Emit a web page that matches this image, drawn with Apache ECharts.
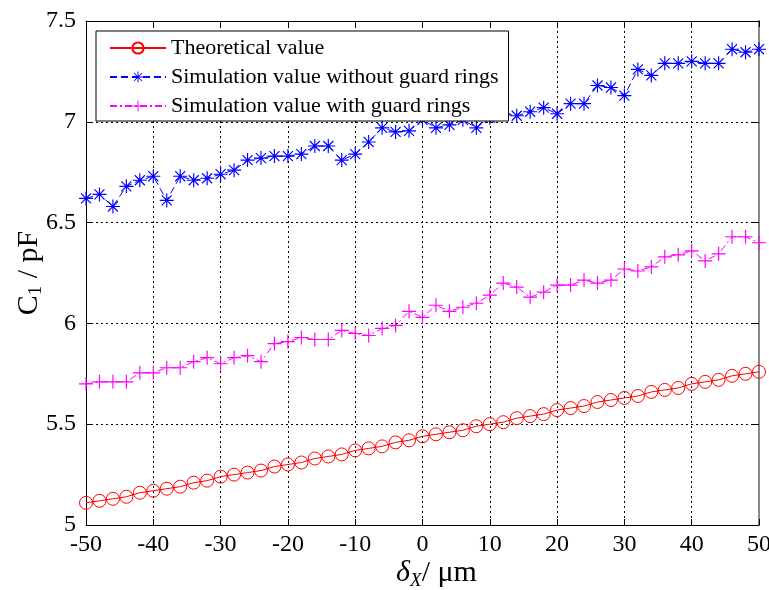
<!DOCTYPE html>
<html>
<head>
<meta charset="utf-8">
<script src="https://cdn.jsdelivr.net/npm/echarts@6/dist/echarts.min.js"></script>
<style>
  html, body { margin: 0; padding: 0; background: #fff; }
  #main { width: 769px; height: 590px; }
</style>
</head>
<body>
<div id="main"></div>
<script>
// x 偏移 (μm)
var xs = [-50,-48,-46,-44,-42,-40,-38,-36,-34,-32,-30,-28,-26,-24,-22,-20,-18,-16,-14,-12,-10,-8,-6,-4,-2,
          0,2,4,6,8,10,12,14,16,18,20,22,24,26,28,30,32,34,36,38,40,42,44,46,48,50];

// 理论值
var theory = [5.11,5.12,5.13,5.14,5.16,5.17,5.18,5.19,5.21,5.22,5.24,5.25,5.26,5.27,5.29,5.30,5.31,5.33,5.34,5.35,5.37,5.38,5.39,5.41,5.42,
              5.44,5.45,5.46,5.47,5.49,5.50,5.51,5.53,5.54,5.55,5.57,5.58,5.59,5.61,5.62,5.63,5.64,5.66,5.67,5.68,5.70,5.71,5.72,5.74,5.75,5.76];

// 无保护环仿真值
var noGuard = [6.62,6.64,6.58,6.68,6.71,6.73,6.61,6.73,6.71,6.72,6.74,6.76,6.81,6.82,6.83,6.83,6.84,6.88,6.88,6.81,6.84,6.90,6.97,6.95,6.955,
               7.01,6.97,6.985,7.01,6.97,7.02,7.04,7.03,7.05,7.07,7.04,7.09,7.09,7.18,7.17,7.13,7.26,7.23,7.29,7.29,7.30,7.29,7.29,7.36,7.345,7.36];

// 有保护环仿真值
var withGuard = [5.70,5.71,5.71,5.71,5.755,5.755,5.78,5.78,5.81,5.83,5.80,5.83,5.84,5.81,5.90,5.91,5.93,5.92,5.92,5.965,5.95,5.94,5.975,5.99,6.06,
                 6.03,6.09,6.06,6.08,6.10,6.14,6.20,6.18,6.13,6.155,6.19,6.19,6.215,6.20,6.215,6.27,6.26,6.28,6.33,6.34,6.36,6.31,6.345,6.43,6.43,6.40];

var legendNames = ['Theoretical value', 'Simulation value without guard rings', 'Simulation value with guard rings'];

function pairs(vals) {
    return xs.map(function (x, i) { return [x, vals[i]]; });
}

// 符号：星号和加号（细矩形填充）
var starPath = 'path://M-6,-0.5L6,-0.5L6,0.5L-6,0.5Z M-0.5,-6L0.5,-6L0.5,6L-0.5,6Z ' +
               'M-3.95,-4.65L4.65,3.95L3.95,4.65L-4.65,-3.95Z M3.95,-4.65L4.65,-3.95L-3.95,4.65L-4.65,3.95Z';
var plusPath = 'path://M-6,-0.5L6,-0.5L6,0.5L-6,0.5Z M-0.5,-6L0.5,-6L0.5,6L-0.5,6Z';

var myChart = echarts.init(document.getElementById('main'), null, { renderer: 'canvas' });
var font = 'Liberation Serif';

var option = {
    backgroundColor: '#fff',
    animation: false,
    textStyle: { fontFamily: font, color: '#000' },
    grid: { left: 86, right: 10, top: 21, bottom: 65, outerBoundsMode: 'none' },
    legend: {
        orient: 'vertical',
        left: 96,
        top: 31,
        padding: [6, 10, 4, 13],
        backgroundColor: '#fff',
        borderColor: '#000',
        borderWidth: 1,
        itemWidth: 56,
        itemHeight: 14,
        itemGap: 7,
        textStyle: { fontFamily: font, fontSize: 22, color: '#000', lineHeight: 22 },
        data: legendNames
    },
    xAxis: [{
        type: 'value',
        min: -50, max: 50, interval: 10,
        name: '{it|δ}{sub|X}{n|/ μm}',
        nameLocation: 'middle',
        nameMoveOverlap: false,
        nameGap: 32,
        nameTextStyle: {
            padding: [0, 0, 0, 28],
            rich: {
                it: { fontFamily: font, fontStyle: 'italic', fontSize: 30, color: '#000' },
                sub: { fontFamily: font, fontStyle: 'italic', fontSize: 19, color: '#000', verticalAlign: 'bottom', padding: [14, 0, 0, 0] },
                n: { fontFamily: font, fontSize: 30, color: '#000' }
            }
        },
        axisLine: { onZero: false, lineStyle: { color: '#000', width: 1 } },
        axisTick: { inside: true, length: 6, lineStyle: { color: '#000' } },
        axisLabel: { fontFamily: font, fontSize: 24, color: '#000', margin: 8 },
        splitLine: { show: true, lineStyle: { color: '#000', type: [2, 3], width: 1 } }
    }, {
        type: 'value',
        position: 'top',
        min: -50, max: 50, interval: 10,
        axisLine: { show: true, onZero: false, lineStyle: { color: '#000', width: 1 } },
        axisTick: { inside: true, length: 6, lineStyle: { color: '#000' } },
        axisLabel: { show: false },
        splitLine: { show: false }
    }],
    yAxis: [{
        type: 'value',
        min: 5, max: 7.5, interval: 0.5,
        name: '{n|C}{sub|1}{n| / pF}',
        nameLocation: 'middle',
        nameMoveOverlap: false,
        nameGap: 40,
        nameTextStyle: {
            rich: {
                n: { fontFamily: font, fontSize: 30, color: '#000' },
                sub: { fontFamily: font, fontSize: 19, color: '#000', verticalAlign: 'bottom', padding: [14, 0, 0, 0] }
            }
        },
        axisLine: { show: true, onZero: false, lineStyle: { color: '#000', width: 1 } },
        axisTick: { show: true, inside: true, length: 6, lineStyle: { color: '#000' } },
        axisLabel: { fontFamily: font, fontSize: 24, color: '#000', margin: 10 },
        splitLine: { show: true, lineStyle: { color: '#000', type: [2, 3], width: 1 } }
    }, {
        type: 'value',
        position: 'right',
        min: 5, max: 7.5, interval: 0.5,
        axisLine: { show: true, onZero: false, lineStyle: { color: '#888', width: 2 } },
        axisTick: { show: true, inside: true, length: 6, lineStyle: { color: '#000' } },
        axisLabel: { show: false },
        splitLine: { show: false }
    }],
    series: [
        {
            name: legendNames[0],
            type: 'line',
            data: pairs(theory),
            symbol: 'circle',
            symbolSize: 13,
            itemStyle: { color: 'rgba(255,0,0,0)', borderColor: '#ff0000', borderWidth: 1 },
            lineStyle: { color: '#ff0000', width: 1, type: 'solid' }
        },
        {
            name: legendNames[1],
            type: 'line',
            data: pairs(noGuard),
            symbol: starPath,
            symbolSize: 14,
            itemStyle: { color: '#0000ff' },
            lineStyle: { color: '#0000ff', width: 1, type: [7, 4] }
        },
        {
            name: legendNames[2],
            type: 'line',
            data: pairs(withGuard),
            symbol: plusPath,
            symbolSize: 14,
            itemStyle: { color: '#ff00ff' },
            lineStyle: { color: '#ff00ff', width: 1, type: [7, 3, 2, 3] }
        }
    ]
};

myChart.setOption(option);
</script>
</body>
</html>
